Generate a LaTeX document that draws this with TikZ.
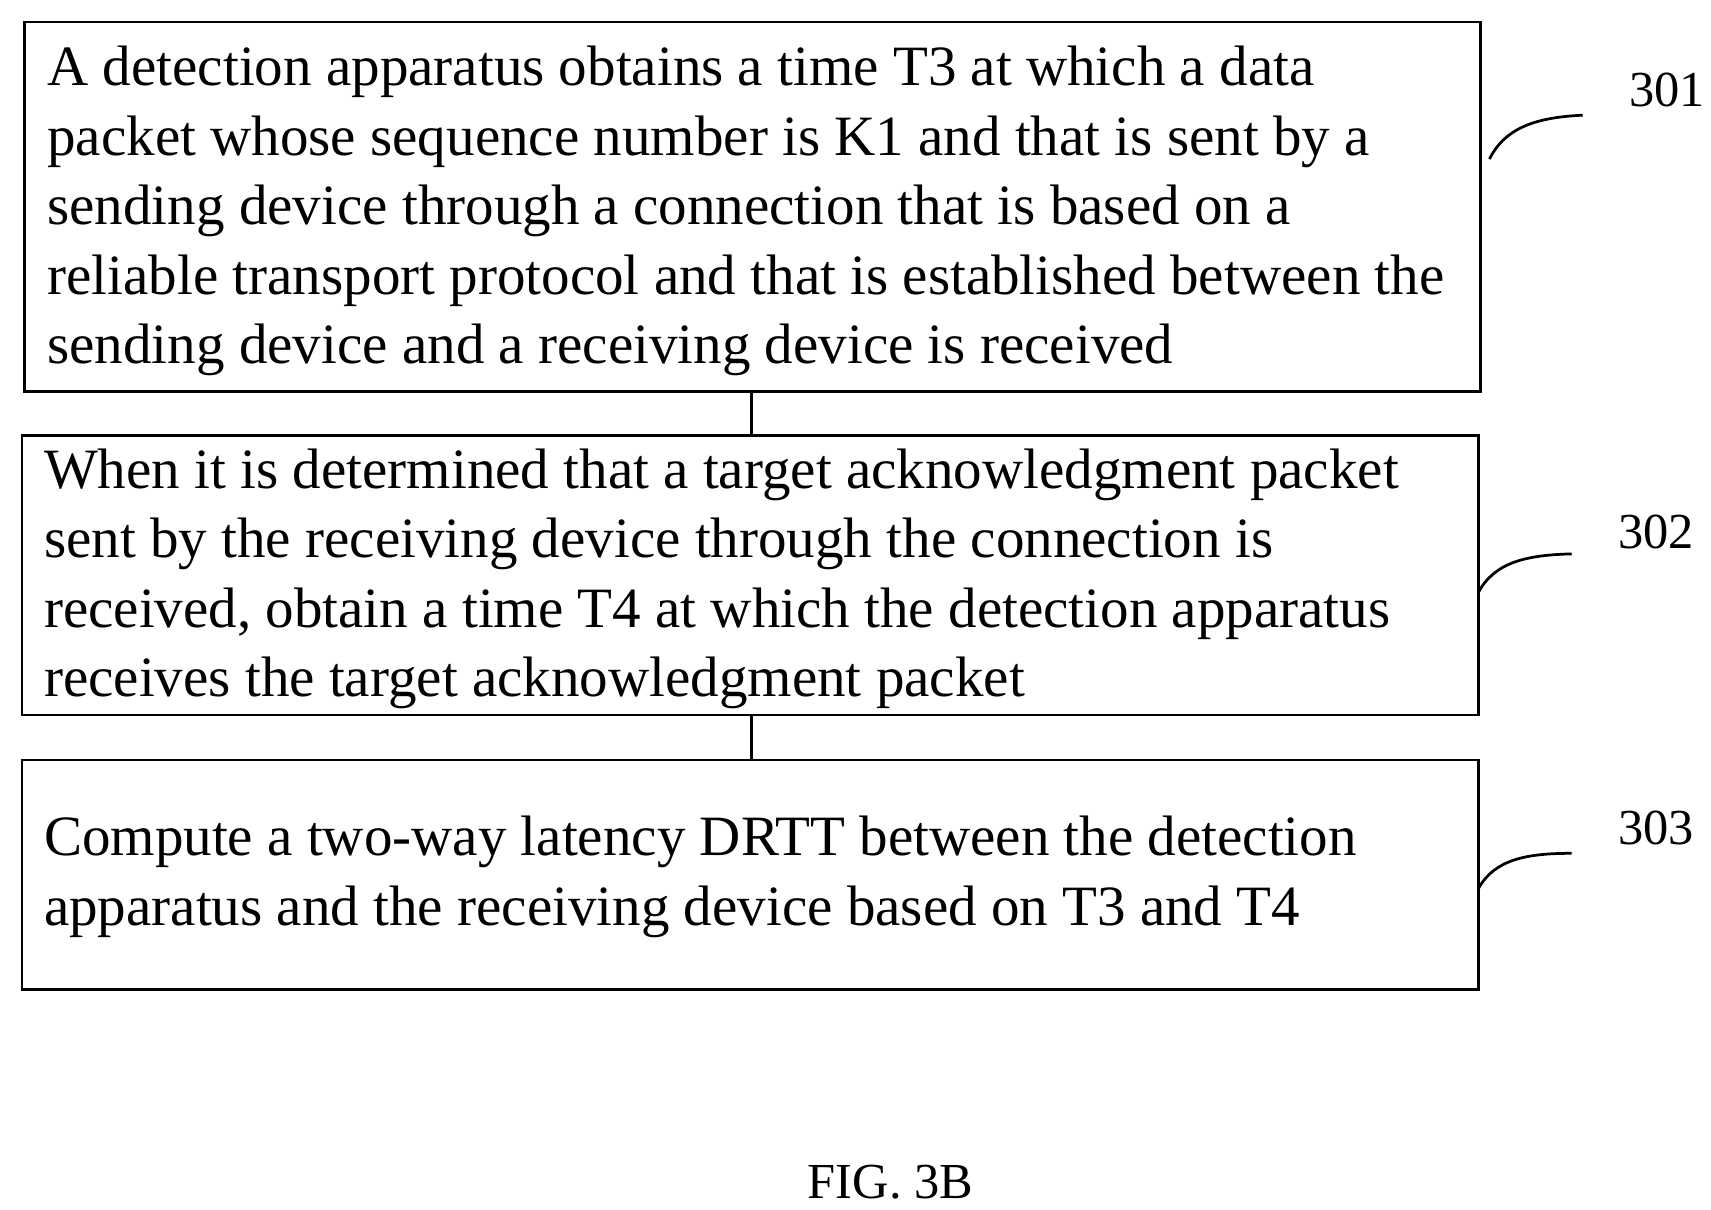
\documentclass[tikz,border=0pt]{standalone}
\usepackage{fontspec}
\setmainfont{Liberation Serif}
\begin{document}
\begin{tikzpicture}[x=1pt,y=-1pt,
  box/.style={draw,line width=2.5pt},
  txt/.style={anchor=north west,align=left,inner sep=0pt,font=\fontsize{52}{63.3}\selectfont},
  lab/.style={font=\fontsize{46}{54}\selectfont,inner sep=0pt}]
\useasboundingbox (0,0) rectangle (1560,1103);
\draw[box] (22,20) rectangle (1350,357);
\draw[box] (20,397) rectangle (1348,652);
\draw[box] (20,693) rectangle (1348,902);
\coordinate (a1) at (685,357); \coordinate (a2) at (685,397);
\coordinate (b1) at (685,652); \coordinate (b2) at (685,693);
\draw[line width=2.5pt] (a1)--(a2);
\draw[line width=2.5pt] (b1)--(b2);
\node[txt] (t1) at (43,42) {A detection apparatus obtains a time T3 at which a data\\packet whose sequence number is K1 and that is sent by a\\sending device through a connection that is based on a\\reliable transport protocol and that is established between the\\sending device and a receiving device is received};
\node[txt] (t2) at (40,409) {When it is determined that a target acknowledgment packet\\sent by the receiving device through the connection is\\received, obtain a time T4 at which the detection apparatus\\receives the target acknowledgment packet};
\node[txt] (t3) at (40,744) {Compute a two-way latency DRTT between the detection\\apparatus and the receiving device based on T3 and T4};
\node[lab] (n1) at (1520,82) {301};
\node[lab] (n2) at (1510,485) {302};
\node[lab] (n3) at (1510,755) {303};
\draw[line width=2.5pt] (1358,145) .. controls (1373,115) and (1403,107) .. (1443,105);
\draw[line width=2.5pt] (1348,540) .. controls (1363,512) and (1393,506) .. (1433,505);
\draw[line width=2.5pt] (1348,810) .. controls (1363,783) and (1393,778) .. (1433,778);
\node[lab] (fig) at (812,1078) {FIG. 3B};
\end{tikzpicture}
\end{document}
